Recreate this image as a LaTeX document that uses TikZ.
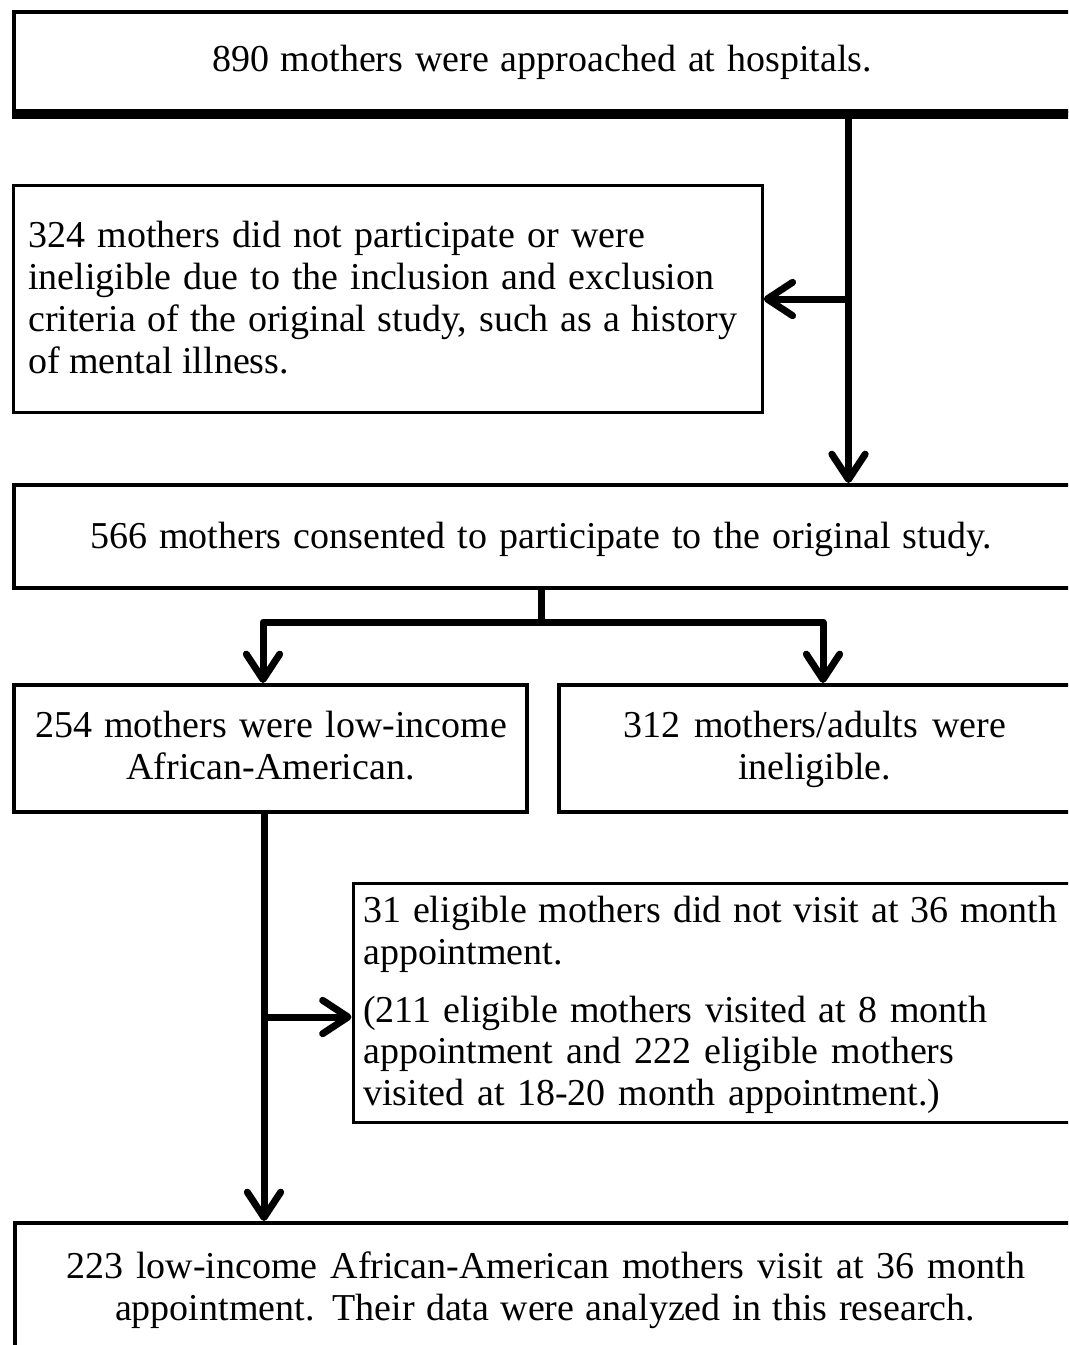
\documentclass[tikz,border=0pt]{standalone}
\usepackage{fontspec}
\setmainfont{Liberation Serif}
\usetikzlibrary{arrows.meta}
\newcommand\fitto[2]{\makebox[#1][s]{#2}}
\begin{document}
\begin{tikzpicture}[x=0.75pt,y=-0.75pt,
  box/.style={draw=black, line width=3pt, inner sep=0pt, anchor=north west},
  thinbox/.style={box, line width=2.4pt},
  txt/.style={inner sep=0pt, font=\fontsize{28.5}{31.5}\selectfont},
  conn/.style={line width=5.25pt, line join=round},
  arr/.style={conn, -{Straight Barb[length=19pt,width=25pt,round]}}]
\useasboundingbox (0,0) rectangle (1068,1345);
\clip (0,0) rectangle (1068,1345);
% boxes
\node[box, minimum width=795pt, minimum height=74.25pt] (b1) at (12,10) {};
\draw[line width=6pt] ([yshift=-1.5pt]b1.south west) -- ([yshift=-1.5pt]b1.south east);
\node[thinbox, minimum width=561.4pt, minimum height=169.9pt] (b2) at (12,184) {};
\node[box, minimum width=795pt, minimum height=77.25pt] (b3) at (12,483) {};
\node[box, minimum width=384.75pt, minimum height=95.25pt] (b4) at (12,683) {};
\node[box, minimum width=386.25pt, minimum height=95.25pt] (b5) at (557,683) {};
\node[thinbox, minimum width=540.4pt, minimum height=179.25pt] (b6) at (351.5,882) {};
\node[box, minimum width=794.25pt, minimum height=119.25pt] (b7) at (13,1221) {};
% texts
\node[txt, anchor=base] (t1) at (542,72) {\fitto{495pt}{890 mothers were approached at hospitals.}};
\node[txt, anchor=base west] (t2a) at (28,247) {\fitto{462.75pt}{324 mothers did not participate or were}};
\node[txt, anchor=base west] (t2b) at (28,289) {\fitto{514.5pt}{ineligible due to the inclusion and exclusion}};
\node[txt, anchor=base west] (t2c) at (28,331) {\fitto{531.75pt}{criteria of the original study, such as a history}};
\node[txt, anchor=base west] (t2d) at (28,373) {of mental illness.};
\node[txt, anchor=base] (t3) at (541,548) {\fitto{676.5pt}{566 mothers consented to participate to the original study.}};
\node[txt, anchor=base] (t4a) at (271,737) {\fitto{354pt}{254 mothers were low-income}};
\node[txt, anchor=base] (t4b) at (270.5,779) {African-American.};
\node[txt, anchor=base] (t5a) at (814.5,737) {\fitto{287.25pt}{312 mothers/adults were}};
\node[txt, anchor=base] (t5b) at (814.5,779) {ineligible.};
\node[txt, anchor=base west] (t6a) at (363,922) {\fitto{520.5pt}{31 eligible mothers did not visit at 36 month}};
\node[txt, anchor=base west] (t6b) at (363,964) {appointment.};
\node[txt, anchor=base west] (t6c) at (363,1022) {\fitto{468pt}{(211 eligible mothers visited at 8 month}};
\node[txt, anchor=base west] (t6d) at (363,1063) {\fitto{443.25pt}{appointment and 222 eligible mothers}};
\node[txt, anchor=base west] (t6e) at (363,1105) {\fitto{432.75pt}{visited at 18-20 month appointment.)}};
\node[txt, anchor=base] (t7a) at (545.5,1278) {\fitto{719.25pt}{223 low-income African-American mothers visit at 36 month}};
\node[txt, anchor=base] (t7b) at (545,1320) {\fitto{645pt}{appointment. Their data were analyzed in this research.}};
% connectors
\coordinate (j1) at (848.5,299);
\draw[arr] ([yshift=-3pt]b1.south -| j1) -- (b3.north -| j1);
\draw[arr] (j1) -- (b2.east |- j1);
\coordinate (s1) at (541,622);
\coordinate (l1) at (263,622);
\coordinate (r1) at (823,622);
\draw[conn] (b3.south -| s1) -- (s1);
\draw[arr] (s1) -| (b4.north -| l1);
\draw[arr] (s1) -| (b5.north -| r1);
\coordinate (v) at (264,1017);
\draw[arr] (b4.south -| v) -- (b7.north -| v);
\draw[arr] (v) -- (b6.west |- v);
\end{tikzpicture}
\end{document}
